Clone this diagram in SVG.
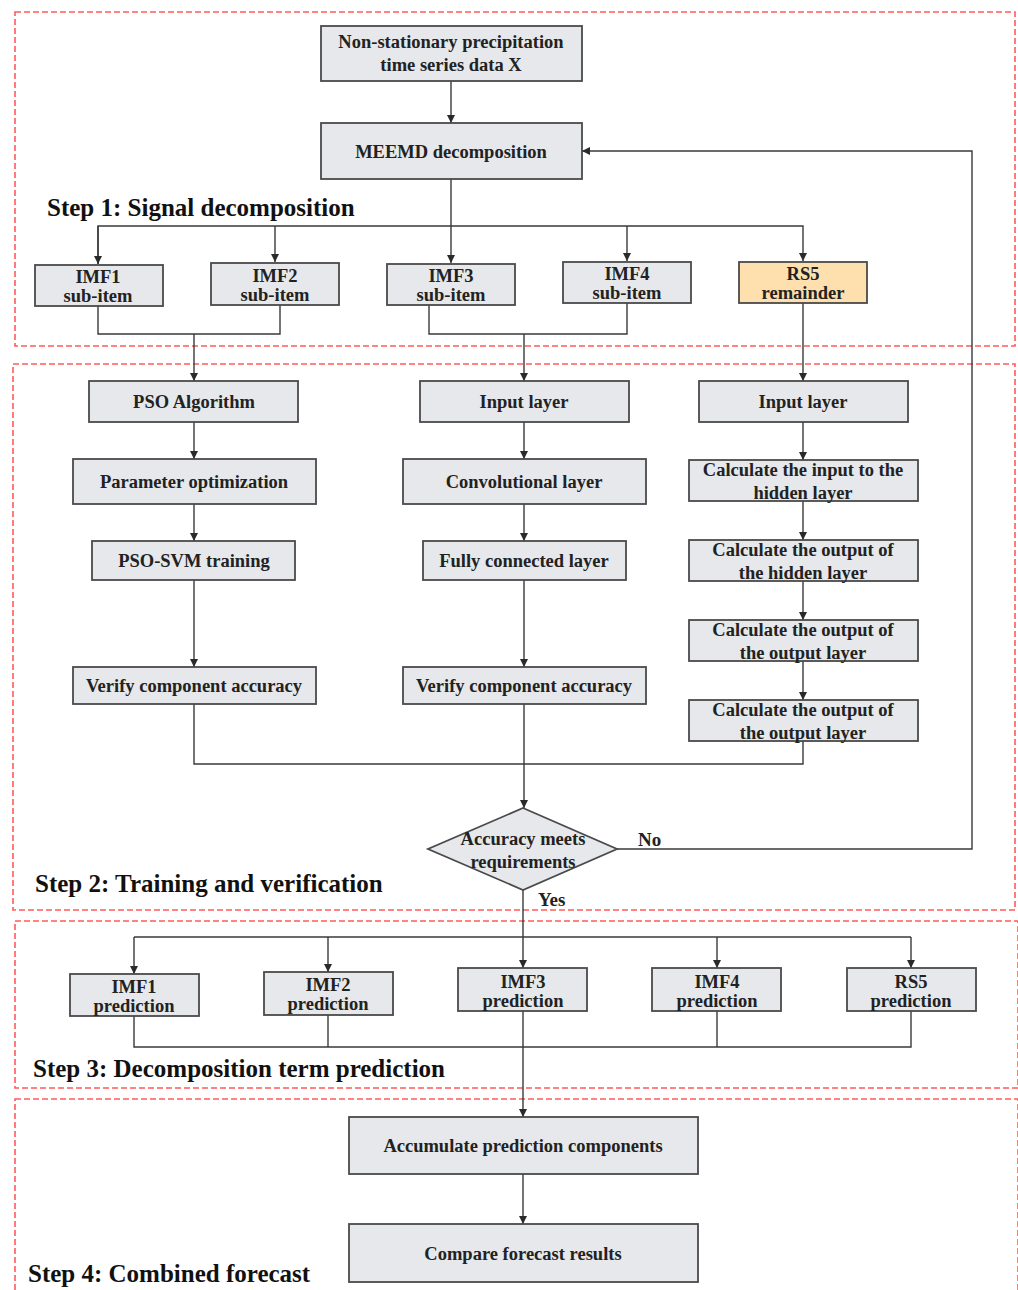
<svg xmlns="http://www.w3.org/2000/svg" width="1018" height="1290" viewBox="0 0 1018 1290">
<defs>
<style>
.reg{fill:none;stroke:#ff5b5b;stroke-width:1.6;stroke-dasharray:6,3}
.box{fill:#e6e8eb;stroke:#4a4a4a;stroke-width:1.8}
.rs{fill:#fde0ad;stroke:#4a4a4a;stroke-width:1.8}
.t{font-family:"Liberation Serif","Times New Roman",serif;font-weight:bold;font-size:18.5px;fill:#222;text-anchor:middle}
.step{font-family:"Liberation Serif","Times New Roman",serif;font-weight:bold;font-size:25px;fill:#111}
.lbl{font-family:"Liberation Serif","Times New Roman",serif;font-weight:bold;font-size:19px;fill:#222}
.c{fill:none;stroke:#3a3a3a;stroke-width:1.4}
</style>
<marker id="ah" markerWidth="8" markerHeight="10" refX="8" refY="5" orient="auto" markerUnits="userSpaceOnUse">
<path d="M0,1 L8,5 L0,9 Z" fill="#2a2a2a"/>
</marker>
</defs>
<rect width="1018" height="1290" fill="#ffffff"/>

<g id="regions">
<rect class="reg" x="15" y="12" width="1000" height="334"/>
<rect class="reg" x="13" y="364" width="1002" height="546"/>
<rect class="reg" x="15" y="921" width="1003" height="167"/>
<rect class="reg" x="15" y="1099" width="1003" height="195"/>
<text class="step" x="47" y="216">Step 1: Signal decomposition</text>
<text class="step" x="35" y="892">Step 2: Training and verification</text>
<text class="step" x="33" y="1077">Step 3:  Decomposition term prediction</text>
<text class="step" x="28" y="1282">Step 4:  Combined forecast</text>
</g>

<g id="connectors">
<line class="c" x1="451" y1="81" x2="451" y2="123" marker-end="url(#ah)"/>
<line class="c" x1="451" y1="179" x2="451" y2="263" marker-end="url(#ah)"/>
<polyline class="c" points="98,264 98,226 803,226 803,261" marker-end="url(#ah)"/>
<line class="c" x1="98" y1="226" x2="98" y2="264" marker-end="url(#ah)"/>
<line class="c" x1="275" y1="226" x2="275" y2="262" marker-end="url(#ah)"/>
<line class="c" x1="627" y1="226" x2="627" y2="261" marker-end="url(#ah)"/>
<polyline class="c" points="98,306 98,334 280,334 280,305"/>
<line class="c" x1="194" y1="334" x2="194" y2="381" marker-end="url(#ah)"/>
<polyline class="c" points="429,305 429,334 627,334 627,303"/>
<line class="c" x1="524" y1="334" x2="524" y2="381" marker-end="url(#ah)"/>
<line class="c" x1="803" y1="303" x2="803" y2="381" marker-end="url(#ah)"/>
<polyline class="c" points="617,849 972,849 972,151 582,151" marker-end="url(#ah)"/>

<line class="c" x1="194" y1="422" x2="194" y2="459" marker-end="url(#ah)"/>
<line class="c" x1="194" y1="504" x2="194" y2="541" marker-end="url(#ah)"/>
<line class="c" x1="194" y1="580" x2="194" y2="667" marker-end="url(#ah)"/>
<line class="c" x1="524" y1="422" x2="524" y2="459" marker-end="url(#ah)"/>
<line class="c" x1="524" y1="504" x2="524" y2="541" marker-end="url(#ah)"/>
<line class="c" x1="524" y1="580" x2="524" y2="667" marker-end="url(#ah)"/>
<line class="c" x1="803" y1="422" x2="803" y2="460" marker-end="url(#ah)"/>
<line class="c" x1="803" y1="501" x2="803" y2="540" marker-end="url(#ah)"/>
<line class="c" x1="803" y1="581" x2="803" y2="620" marker-end="url(#ah)"/>
<line class="c" x1="803" y1="661" x2="803" y2="700" marker-end="url(#ah)"/>
<polyline class="c" points="194,704 194,764 803,764 803,741"/>
<line class="c" x1="524" y1="704" x2="524" y2="808" marker-end="url(#ah)"/>

<line class="c" x1="523" y1="890" x2="523" y2="968" marker-end="url(#ah)"/>
<line class="c" x1="134" y1="937" x2="911" y2="937"/>
<line class="c" x1="134" y1="937" x2="134" y2="974" marker-end="url(#ah)"/>
<line class="c" x1="328" y1="937" x2="328" y2="972" marker-end="url(#ah)"/>
<line class="c" x1="717" y1="937" x2="717" y2="968" marker-end="url(#ah)"/>
<line class="c" x1="911" y1="937" x2="911" y2="968" marker-end="url(#ah)"/>
<polyline class="c" points="134,1016 134,1047 911,1047 911,1011"/>
<line class="c" x1="328" y1="1015" x2="328" y2="1047"/>
<line class="c" x1="717" y1="1011" x2="717" y2="1047"/>
<line class="c" x1="523" y1="1011" x2="523" y2="1117" marker-end="url(#ah)"/>
<line class="c" x1="523" y1="1174" x2="523" y2="1224" marker-end="url(#ah)"/>
<text class="lbl" x="638" y="846">No</text>
<text class="lbl" x="538" y="906">Yes</text>
</g>

<g id="n-input"><rect class="box" x="321" y="26" width="261" height="55"/>
<text class="t" x="451" y="48">Non-stationary precipitation</text><text class="t" x="451" y="71">time series data X</text></g>
<g id="n-meemd"><rect class="box" x="321" y="123" width="261" height="56"/>
<text class="t" x="451" y="158">MEEMD decomposition</text></g>

<g id="n-imf1"><rect class="box" x="35" y="265" width="128" height="41"/>
<text class="t" x="98" y="283">IMF1</text><text class="t" x="98" y="302">sub-item</text></g>
<g id="n-imf2"><rect class="box" x="211" y="263" width="128" height="42"/>
<text class="t" x="275" y="282">IMF2</text><text class="t" x="275" y="301">sub-item</text></g>
<g id="n-imf3"><rect class="box" x="387" y="264" width="128" height="41"/>
<text class="t" x="451" y="282">IMF3</text><text class="t" x="451" y="301">sub-item</text></g>
<g id="n-imf4"><rect class="box" x="563" y="262" width="128" height="41"/>
<text class="t" x="627" y="280">IMF4</text><text class="t" x="627" y="299">sub-item</text></g>
<g id="n-rs5"><rect class="rs" x="739" y="262" width="128" height="41"/>
<text class="t" x="803" y="280">RS5</text><text class="t" x="803" y="299">remainder</text></g>

<g id="n-pso"><rect class="box" x="89" y="381" width="209" height="41"/>
<text class="t" x="194" y="408">PSO Algorithm</text></g>
<g id="n-param"><rect class="box" x="73" y="459" width="243" height="45"/>
<text class="t" x="194" y="488">Parameter optimization</text></g>
<g id="n-psosvm"><rect class="box" x="92" y="541" width="203" height="39"/>
<text class="t" x="194" y="567">PSO-SVM training</text></g>
<g id="n-verify1"><rect class="box" x="73" y="667" width="243" height="37"/>
<text class="t" x="194" y="692">Verify component accuracy</text></g>

<g id="n-input2"><rect class="box" x="420" y="381" width="209" height="41"/>
<text class="t" x="524" y="408">Input layer</text></g>
<g id="n-conv"><rect class="box" x="403" y="459" width="243" height="45"/>
<text class="t" x="524" y="488">Convolutional layer</text></g>
<g id="n-fc"><rect class="box" x="423" y="541" width="203" height="39"/>
<text class="t" x="524" y="567">Fully connected layer</text></g>
<g id="n-verify2"><rect class="box" x="403" y="667" width="243" height="37"/>
<text class="t" x="524" y="692">Verify component accuracy</text></g>

<g id="n-input3"><rect class="box" x="699" y="381" width="209" height="41"/>
<text class="t" x="803" y="408">Input layer</text></g>
<g id="n-calc1"><rect class="box" x="689" y="460" width="229" height="41"/>
<text class="t" x="803" y="476">Calculate the input to the</text><text class="t" x="803" y="499">hidden layer</text></g>
<g id="n-calc2"><rect class="box" x="689" y="540" width="229" height="41"/>
<text class="t" x="803" y="556">Calculate the output of</text><text class="t" x="803" y="579">the hidden layer</text></g>
<g id="n-calc3"><rect class="box" x="689" y="620" width="229" height="41"/>
<text class="t" x="803" y="636">Calculate the output of</text><text class="t" x="803" y="659">the output layer</text></g>
<g id="n-calc4"><rect class="box" x="689" y="700" width="229" height="41"/>
<text class="t" x="803" y="716">Calculate the output of</text><text class="t" x="803" y="739">the output layer</text></g>

<g id="n-decision"><polygon class="box" points="523,808 617,849 523,890 428,849"/>
<text class="t" x="523" y="845">Accuracy meets</text><text class="t" x="523" y="868">requirements</text></g>

<g id="n-p1"><rect class="box" x="70" y="974" width="129" height="42"/>
<text class="t" x="134" y="993">IMF1</text><text class="t" x="134" y="1012">prediction</text></g>
<g id="n-p2"><rect class="box" x="264" y="972" width="129" height="43"/>
<text class="t" x="328" y="991">IMF2</text><text class="t" x="328" y="1010">prediction</text></g>
<g id="n-p3"><rect class="box" x="458" y="968" width="129" height="43"/>
<text class="t" x="523" y="988">IMF3</text><text class="t" x="523" y="1007">prediction</text></g>
<g id="n-p4"><rect class="box" x="652" y="968" width="129" height="43"/>
<text class="t" x="717" y="988">IMF4</text><text class="t" x="717" y="1007">prediction</text></g>
<g id="n-p5"><rect class="box" x="847" y="968" width="129" height="43"/>
<text class="t" x="911" y="988">RS5</text><text class="t" x="911" y="1007">prediction</text></g>

<g id="n-accum"><rect class="box" x="349" y="1117" width="349" height="57"/>
<text class="t" x="523" y="1152">Accumulate prediction components</text></g>
<g id="n-compare"><rect class="box" x="349" y="1224" width="349" height="58"/>
<text class="t" x="523" y="1260">Compare forecast results</text></g>
</svg>
